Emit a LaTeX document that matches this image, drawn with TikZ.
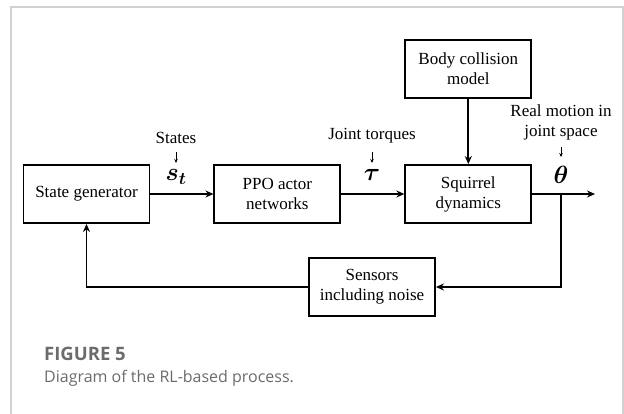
\documentclass[tikz,border=0pt]{standalone}
\usepackage{fontspec}
\setmainfont{Liberation Serif}
\newfontfamily\capfont{Open Sans}
\usepackage{amsmath}
\usepackage{bm}
\usetikzlibrary{positioning}
\usetikzlibrary{calc}
\usetikzlibrary{arrows.meta}

\begin{document}
\begin{tikzpicture}[x=1pt, y=-1pt,
		block/.style={draw, line width=1.9pt, minimum width=126pt, minimum height=58pt, align=center, font=\fontsize{17}{20}\selectfont},
		flow/.style={line width=1.9pt, -{Stealth[length=8pt, width=7pt]}},
		tag/.style={align=center, font=\fontsize{17}{20}\selectfont},
		sym/.style={font=\fontsize{23}{26}\selectfont},
		hint/.style={line width=0.7pt, -{Stealth[length=4pt, width=3.5pt]}}
	]
	\useasboundingbox (0,0) rectangle (624,414);
	% frame of the figure
	\draw[black!18, line width=1.2pt] (11,414) |- (623,7) -- (623,414);

	% blocks
	\node[block] (gen) at (86.5,194) {State generator};
	\node[block, right=63pt of gen] (ppo) {PPO actor\\networks};
	\node[block, right=63pt of ppo] (sq) {Squirrel\\dynamics};
	\node[block, above=65pt of sq] (body) {Body collision\\model};
	\node[block] (sens) at (372,287) {Sensors\\including noise};

	% signals
	\coordinate (out) at (595,194);
	\coordinate (tap) at (561,194);
	\draw[flow] (gen) -- (ppo);
	\draw[flow] (ppo) -- (sq);
	\draw[flow] (body) -- (sq);
	\draw[flow] (sq) -- (out);
	\draw[flow] (tap) |- (sens);
	\draw[flow] (sens) -| (gen);

	% labels
	\node[sym] (st) at (176,177) {$\bm{s_t}$};
	\node[tag] (states) at (176,138) {States};
	\draw[hint] (176,152) -- (176,163);
	\node[sym] (tau) at (372,175) {$\bm{\tau}$};
	\node[tag] (tq) at (372,136) {Joint torques};
	\draw[hint] (372,152) -- (372,163);
	\node[sym] (th) at (561,175) {$\bm{\theta}$};
	\node[tag] (real) at (561,122) {Real motion in\\joint space};
	\draw[hint] (561,147) -- (561,157);

	% caption
	\node[anchor=west, inner sep=0pt, text=black!58, font=\capfont\bfseries\fontsize{18.5}{20}\selectfont] (fig) at (44,354) {FIGURE 5};
	\node[anchor=west, inner sep=0pt, text=black!58, font=\capfont\fontsize{16}{20}\selectfont] (capt) at (44,378) {Diagram of the RL-based process.};
\end{tikzpicture}
\end{document}
